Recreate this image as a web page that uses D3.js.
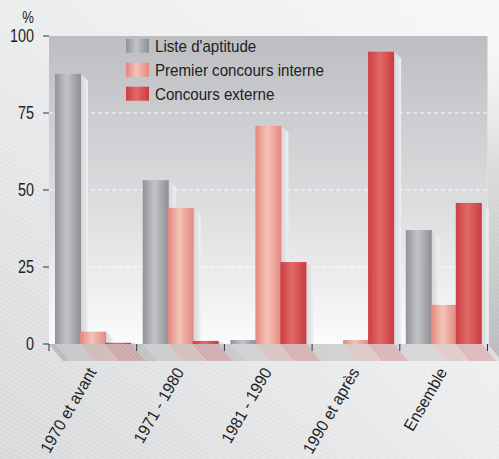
<!DOCTYPE html>
<html><head><meta charset="utf-8">
<script src="https://cdn.jsdelivr.net/npm/d3@7"></script>
<style>body{margin:0;padding:0;background:#fff;}svg{display:block;}</style>
</head><body>
<script>
const categories = ["1970 et avant","1971 - 1980","1981 - 1990","1990 et après","Ensemble"];
const seriesNames = ["Liste d'aptitude","Premier concours interne","Concours externe"];
const listeAptitude = [87.7, 53.2, 1.3, 0, 37.0];
const premierConcours = [4.0, 44.2, 70.8, 1.3, 12.7];
const concoursExterne = [0.4, 1.0, 26.6, 94.9, 45.8];
const yTicks = [0, 25, 50, 75, 100];
const seriesValues = [listeAptitude, premierConcours, concoursExterne];

const W = 499, H = 459;
const FONT = "'Liberation Sans', Arial, sans-serif";
const svg = d3.select("body").append("svg").attr("width", W).attr("height", H);
const defs = svg.append("defs");

function linGrad(id, x1, y1, x2, y2, stops) {
  const g = defs.append("linearGradient").attr("id", id)
    .attr("x1", x1).attr("y1", y1).attr("x2", x2).attr("y2", y2);
  stops.forEach(s => g.append("stop").attr("offset", s[0]).attr("stop-color", s[1]).attr("stop-opacity", s[2] == null ? 1 : s[2]));
}
linGrad("bg", "100%", "0%", "0%", "100%", [[0, "#f7f7f7"], [0.5, "#eaebec"], [1, "#d6d7d9"]]);
linGrad("plot", "0", "0", "0", "1", [[0, "#bdbec1"], [0.55, "#dcdddf"], [1, "#fafbfc"]]);
linGrad("floor", "0", "0", "1", "0", [[0, "#b3b4b7"], [0.5, "#c8c9cc"], [1, "#d8d9db"]]);
linGrad("wall", "0", "0", "0", "1", [[0, "#e8e9ea", 0], [0.4, "#cfd0d2", 0.8], [1, "#b4b5b8"]]);
linGrad("side", "0", "0", "1", "0", [[0, "#d5d6d8"], [1, "#eeeff1"]]);
const barGrads = [
  [[0, "#929397"], [0.45, "#c3c4c7"], [1, "#8d8e92"]],
  [[0, "#e2867c"], [0.45, "#f4c3b7"], [1, "#e3897f"]],
  [[0, "#cd3d43"], [0.45, "#e06a66"], [1, "#cb3a41"]]
];
const shadowCol = ["#9fa0a4", "#f2b2a8", "#e0767a"];
barGrads.forEach((s, i) => linGrad("bar" + i, "0", "0", "1", "0", s));

const hatch = defs.append("pattern").attr("id", "hatch").attr("patternUnits", "userSpaceOnUse")
  .attr("width", 4).attr("height", 4).attr("patternTransform", "rotate(28)");
hatch.append("line").attr("x1", 0).attr("y1", 1).attr("x2", 4).attr("y2", 1)
  .attr("stroke", "#ffffff").attr("stroke-width", 1).attr("stroke-opacity", 0.35);
const hatch2 = defs.append("pattern").attr("id", "hatch2").attr("patternUnits", "userSpaceOnUse")
  .attr("width", 3).attr("height", 3).attr("patternTransform", "rotate(45)");
hatch2.append("line").attr("x1", 0).attr("y1", 1).attr("x2", 3).attr("y2", 1)
  .attr("stroke", "#ffffff").attr("stroke-width", 1).attr("stroke-opacity", 0.3);

// background
svg.append("rect").attr("width", W).attr("height", H).attr("fill", "url(#bg)");
svg.append("rect").attr("width", W).attr("height", H).attr("fill", "url(#hatch)");

const x = d3.scaleBand().domain(categories).range([49, 487.5]).padding(0);
const y = d3.scaleLinear().domain([0, 100]).range([344, 36]);
const inner = d3.scaleBand().domain(seriesNames).range([6, 81]).padding(0);
const bw = inner.bandwidth() + 1;
const depthX = 14, depthY = 17, sideD = 7;

const [px0, px1] = x.range();
const y0 = y(0), yTop = y(100);

// right wall
const wallPts = [[px1, yTop], [px1 + depthX, yTop + depthY], [px1 + depthX, y0 + depthY], [px1, y0]];
svg.append("polygon").attr("points", wallPts.join(" ")).attr("fill", "url(#wall)");
svg.append("polygon").attr("points", wallPts.join(" ")).attr("fill", "url(#hatch2)");
// floor
const floorPts = [[px0, y0], [px1, y0], [px1 + depthX, y0 + depthY], [px0 + depthX, y0 + depthY]];
svg.append("polygon").attr("points", floorPts.join(" ")).attr("fill", "url(#floor)");

// floor shadows of bars
categories.forEach((c, ci) => {
  seriesNames.forEach((s, si) => {
    const v = seriesValues[si][ci];
    if (v <= 0) return;
    const bx = x(c) + inner(s);
    svg.append("polygon")
      .attr("points", [[bx, y0], [bx + bw, y0], [bx + bw + depthX, y0 + depthY], [bx + depthX, y0 + depthY]].join(" "))
      .attr("fill", si === 0 ? "#d4d5d7" : shadowCol[si]).attr("fill-opacity", si === 0 ? 0.45 : 0.35);
  });
});
svg.append("polygon").attr("points", floorPts.join(" ")).attr("fill", "url(#hatch2)");

// plot area
svg.append("rect").attr("x", px0).attr("y", yTop).attr("width", px1 - px0).attr("height", y0 - yTop)
  .attr("fill", "url(#plot)");

// gridlines
svg.append("g").selectAll("line").data(yTicks.filter(t => t > 0 && t < 100)).join("line")
  .attr("x1", px0).attr("x2", px1).attr("y1", d => y(d)).attr("y2", d => y(d))
  .attr("stroke", "#ffffff").attr("stroke-width", 1.2).attr("stroke-dasharray", "4,3").attr("stroke-opacity", 0.9);

// bars
const barsG = svg.append("g");
categories.forEach((c, ci) => {
  seriesNames.forEach((s, si) => {
    const v = seriesValues[si][ci];
    if (v <= 0) return;
    const bx = x(c) + inner(s);
    const top = y(v);
    const d = Math.min(sideD, y0 - top);
    barsG.append("polygon")
      .attr("points", [[bx + bw, top], [bx + bw + sideD, top + d], [bx + bw + sideD, y0], [bx + bw, y0]].join(" "))
      .attr("fill", "url(#side)");
    barsG.append("rect").attr("x", bx).attr("y", top).attr("width", bw).attr("height", y0 - top)
      .attr("fill", "url(#bar" + si + ")");
  });
});

// y axis
const yAxis = svg.append("g");
yAxis.selectAll("line").data(yTicks).join("line")
  .attr("x1", 43).attr("x2", px0).attr("y1", d => y(d)).attr("y2", d => y(d))
  .attr("stroke", "#333").attr("stroke-width", 1);
yAxis.selectAll("g.lab").data(yTicks).join("g").attr("class", "lab")
  .attr("transform", d => `translate(34,${y(d)}) scale(0.8,1)`)
  .append("text").attr("text-anchor", "end").attr("dy", "0.36em")
  .attr("font-family", FONT).attr("font-size", 18).attr("fill", "#222")
  .text(d => d);
svg.append("g").attr("transform", "translate(34,23) scale(0.82,1)")
  .append("text").attr("text-anchor", "end")
  .attr("font-family", FONT).attr("font-size", 16).attr("fill", "#222")
  .text("%");

// x axis ticks
const bounds = categories.map(c => x(c)).concat([px1]);
svg.append("g").selectAll("line").data(bounds).join("line")
  .attr("x1", d => d).attr("x2", d => d).attr("y1", y0).attr("y2", y0 + 7)
  .attr("stroke", "#333").attr("stroke-width", 1);

// x labels
svg.append("g").selectAll("g").data(categories).join("g")
  .attr("transform", c => `translate(${x(c) + x.bandwidth() / 2 + 4},372) rotate(-60) scale(0.95,1)`)
  .append("text").attr("text-anchor", "end")
  .attr("font-family", FONT).attr("font-size", 16.5).attr("fill", "#222")
  .text(c => c);

// legend
const leg = svg.append("g");
seriesNames.forEach((s, i) => {
  const ly = 38.7 + i * 24;
  leg.append("rect").attr("x", 126).attr("y", ly).attr("width", 23).attr("height", 14)
    .attr("fill", "url(#bar" + i + ")");
  leg.append("g").attr("transform", `translate(155,${ly + 13}) scale(0.89,1)`)
    .append("text").attr("font-family", FONT).attr("font-size", 17)
    .attr("fill", "#222").text(s);
});
</script>
</body></html>
